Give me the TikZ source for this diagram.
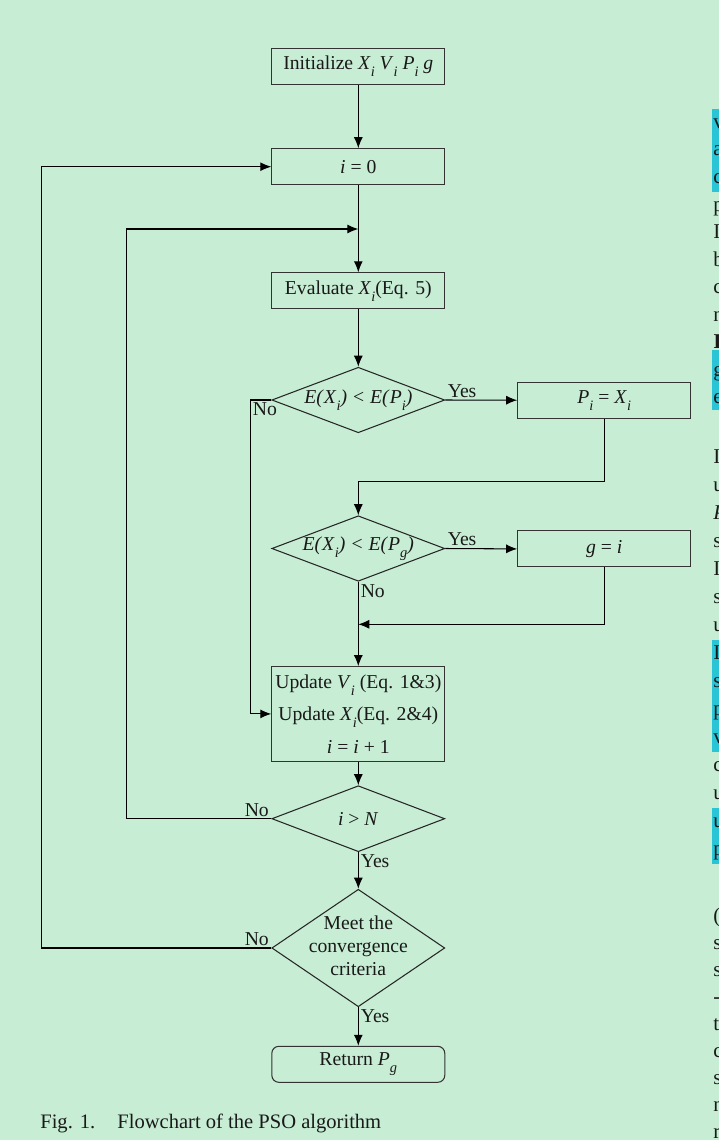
\documentclass[tikz,border=0pt]{standalone}
\usepackage{fontspec}
\setmainfont{Liberation Serif}
\usetikzlibrary{arrows.meta,shapes.geometric}
\definecolor{paper}{RGB}{199,237,212}
\definecolor{hilite}{RGB}{41,197,214}
\newcommand{\vsub}[2]{\textit{#1}\raisebox{-0.8ex}{\fontsize{8.2}{10}\selectfont\textit{#2}}}
\newcommand{\nowide}[1]{\makebox[0pt]{#1}}
\tikzset{
	block/.style={draw=black!80, line width=0.6pt, minimum width=3.46cm, minimum height=0.72cm, inner sep=0pt},
	decision/.style={diamond, draw=black!85, line width=0.6pt, minimum width=3.46cm, minimum height=1.31cm, inner sep=0pt, aspect=1.5},
	flow/.style={->, line width=0.6pt},
	tag/.style={inner sep=1.2pt}
}

\begin{document}
\begin{tikzpicture}[x=0.02cm, y=-0.02cm, >={Latex[length=2.2mm,width=1.8mm]}, font=\fontsize{11.2}{13.5}\selectfont, text=black!90]
		\fill[paper] (0,0) rectangle (719,1140);
		\useasboundingbox (0,0) rectangle (719,1140);

		\node[block] (init) at (358.3,66.3) {Initialize \vsub{X}{i} \vsub{V}{i} \vsub{P}{i} \textit{g}};
		\node[block] (zero) at (358.3,166.7) {\textit{i} = 0};
		\node[block] (eval) at (358.3,290.8) {Evaluate \vsub{X}{i}(Eq. 5)};
		\node[decision] (best) at (358.3,400) {\nowide{\textit{E(}\vsub{X}{i}\textit{) < E(}\vsub{P}{i}\textit{)}}};
		\node[block] (pbest) at (604.2,400.2) {\vsub{P}{i} = \vsub{X}{i}};
		\node[decision] (gtest) at (358.3,548.5) {\nowide{\textit{E(}\vsub{X}{i}\textit{) < E(}\vsub{P}{g}\textit{)}}};
		\node[block] (gbest) at (604.2,548.9) {\textit{g} = \textit{i}};
		\node[block, minimum height=1.89cm, align=center, font=\fontsize{11.2}{18.4}\selectfont] (update) at (358.3,713.9) {Update \vsub{V}{i} (Eq. 1\&3)\\Update \vsub{X}{i}(Eq. 2\&4)\\\textit{i} = \textit{i} + 1};
		\node[decision, minimum height=1.32cm] (count) at (358.3,818.7) {\nowide{\textit{i} > \textit{N}}};
		\node[decision, minimum height=2.35cm] (conv) at (358.3,948) {\nowide{\renewcommand{\arraystretch}{0.95}\begin{tabular}{@{}c@{}}Meet the\\convergence\\criteria\end{tabular}}};
		\node[block, rounded corners=4pt] (ret) at (358.3,1064.3) {Return \vsub{P}{g}};
		\node[anchor=west, inner sep=0pt, font=\fontsize{11.7}{14}\selectfont] (cap) at (40,1123) {Fig. 1.\hspace{0.75em} Flowchart of the PSO algorithm};

		\coordinate (merge) at (358.3,229);
		\coordinate (loopin) at (126.5,229);
		\coordinate (loopout) at (41.3,166.7);
		\coordinate (nocorner) at (250.5,400);
		\coordinate (bend) at (358.3,481.7);
		\coordinate (join) at (358.3,624.3);

		\draw[flow] (init) -- (zero);
		\draw[flow] (zero) -- (eval);
		\draw[flow] (eval) -- (best);
		\draw[flow] (best.east) -- (pbest.west);
		\draw[flow] (pbest.south) |- (bend) -- (gtest.north);
		\draw[flow] (gtest.east) -- (gbest.west);
		\draw[flow] (gtest.south) -- (update.north);
		\draw[flow] (gbest.south) |- (join);
		\draw[flow] (best.west) -- (nocorner) |- (update.west);
		\draw[flow] (update) -- (count);
		\draw[flow] (count.west) -| (loopin) -- (merge);
		\draw[flow] (count) -- (conv);
		\draw[flow] (conv.west) -| (loopout) -- (zero.west);
		\draw[flow] (conv) -- (ret);

		\node[tag, anchor=south west] (yes1) at (best.east) {Yes};
		\node[tag, anchor=north west] (no1) at (nocorner) {No};
		\node[tag, anchor=south west] (yes2) at (gtest.east) {Yes};
		\node[tag, anchor=north west] (no2) at (gtest.south) {No};
		\node[tag, anchor=south east] (no3) at (count.west) {No};
		\node[tag, anchor=north west] (yes3) at (count.south) {Yes};
		\node[tag, anchor=south east] (no4) at (conv.west) {No};
		\node[tag, anchor=north west] (yes4) at (conv.south) {Yes};

		% next column, cut by the page edge
		\foreach \ya/\yb in {109/192,350/410,640/752,808/864}
		\fill[hilite] (712,\ya) rectangle (725,\yb);
		\foreach \y/\ch in {123/v,150/a,178/c,206/p,233/I,261/b,288/c,316/n,343/\textbf{I},371/g,398/e,
			458/I,486/u,514/\textit{P},542/s,570/I,598/s,626/u,654/I,682/s,710/p,738/v,766/c,794/u,822/u,850/p,
			917/(,944/s,971/s,998/-,1025/t,1052/c,1079/s,1106/n,1133/r}
		\node[anchor=base west, inner sep=0pt, font=\fontsize{12}{14}\selectfont] (col\y) at (713,\y+5) {\ch};
	\end{tikzpicture}
\end{document}
